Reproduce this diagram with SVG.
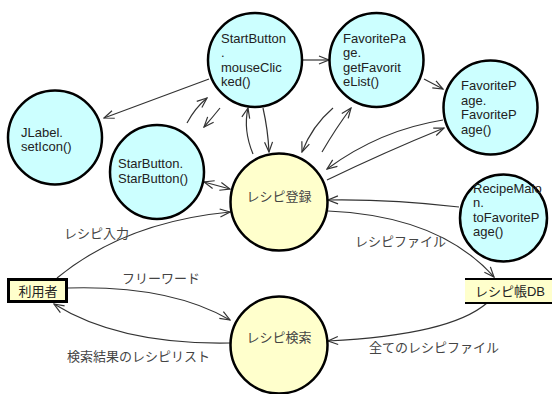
<svg xmlns="http://www.w3.org/2000/svg" width="552" height="394" viewBox="0 0 552 394">
<style>
.proc-c{fill:#ccffff;stroke:#000;stroke-width:2.5}
.proc-y{fill:#ffffcc;stroke:#000;stroke-width:2.5}
.t{font-family:"Liberation Sans","Noto Sans CJK JP",sans-serif;font-size:13px;fill:#222}
.lbl{font-family:"Liberation Sans","Noto Sans CJK JP",sans-serif;font-size:13px;fill:#444}
.c{fill:none;stroke:#333;stroke-width:1.2}
</style>
<defs>
<marker id="ah" viewBox="0 0 12 10" refX="11" refY="5" markerWidth="12" markerHeight="10" markerUnits="userSpaceOnUse" orient="auto-start-reverse">
<path d="M1,1 L11,5 L1,9" fill="none" stroke="#333" stroke-width="1.2"/>
</marker>
</defs>
<rect width="552" height="394" fill="#fff"/>
<g id="connectors">
<path class="c" d="M209,79 L104,118" marker-end="url(#ah)"/>
<path class="c" d="M187,123 Q195,108 207,98" marker-end="url(#ah)"/>
<path class="c" d="M220,108 Q212,118 204,127" marker-end="url(#ah)"/>
<path class="c" d="M253,154 Q243,130 248,108" marker-end="url(#ah)"/>
<path class="c" d="M263,108 Q268,130 269,152" marker-end="url(#ah)"/>
<path class="c" d="M303,60 L329,60" marker-end="url(#ah)"/>
<path class="c" d="M424,79 L443,89" marker-end="url(#ah)"/>
<path class="c" d="M333,108 Q312,126 302,152" marker-end="url(#ah)"/>
<path class="c" d="M322,152 Q336,128 351,108" marker-end="url(#ah)"/>
<path class="c" d="M443,120 Q380,130 327,169" marker-end="url(#ah)"/>
<path class="c" d="M327,180 Q385,152 444,128" marker-end="url(#ah)"/>
<path class="c" d="M459,207 Q390,199 328,200" marker-end="url(#ah)"/>
<path class="c" d="M204,182 L230,189" marker-start="url(#ah)" marker-end="url(#ah)"/>
<path class="c" d="M57,278 Q125,222 230,212" marker-end="url(#ah)"/>
<path class="c" d="M68,288 Q170,285 230,320" marker-end="url(#ah)"/>
<path class="c" d="M230,343 Q120,345 54,304" marker-end="url(#ah)"/>
<path class="c" d="M328,211 Q440,216 494,277" marker-end="url(#ah)"/>
<path class="c" d="M487,303 Q450,335 328,341" marker-end="url(#ah)"/>
<text class="lbl" x="64" y="238">レシピ入力</text>
<text class="lbl" x="122" y="283">フリーワード</text>
<text class="lbl" x="67" y="361">検索結果のレシピリスト</text>
<text class="lbl" x="355" y="246">レシピファイル</text>
<text class="lbl" x="369" y="352">全てのレシピファイル</text>
</g>
<g id="startbutton">
<circle class="proc-c" cx="255" cy="60" r="47"/>
<text class="t" x="221" y="43">StartButton</text>
<text class="t" x="221" y="57">.</text>
<text class="t" x="221" y="72">mouseClic</text>
<text class="t" x="221" y="86">ked()</text>
</g>
<g id="getfavoritelist">
<circle class="proc-c" cx="376.5" cy="60" r="47"/>
<text class="t" x="343" y="43">FavoritePa</text>
<text class="t" x="343" y="57">ge.</text>
<text class="t" x="343" y="72">getFavorit</text>
<text class="t" x="343" y="86">eList()</text>
</g>
<g id="favoritepage">
<circle class="proc-c" cx="490.5" cy="107.5" r="47"/>
<text class="t" x="461" y="90">FavoriteP</text>
<text class="t" x="461" y="105">age.</text>
<text class="t" x="461" y="119">FavoriteP</text>
<text class="t" x="461" y="134">age()</text>
</g>
<g id="jlabel">
<circle class="proc-c" cx="55" cy="137.5" r="47"/>
<text class="t" x="21" y="137">JLabel.</text>
<text class="t" x="21" y="151">setIcon()</text>
</g>
<g id="starbutton">
<circle class="proc-c" cx="157" cy="172" r="47"/>
<text class="t" x="118" y="168">StarButton.</text>
<text class="t" x="118" y="183">StarButton()</text>
</g>
<g id="recipemaion">
<circle class="proc-c" cx="503.5" cy="218" r="43.5"/>
<text class="t" x="473" y="193">RecipeMaio</text>
<text class="t" x="473" y="207">n.</text>
<text class="t" x="473" y="222">toFavoriteP</text>
<text class="t" x="473" y="236">age()</text>
</g>
<g id="recipe-register">
<circle class="proc-y" cx="279" cy="202" r="48.5"/>
<text class="t" x="279" y="201" text-anchor="middle" style="fill:#444">レシピ登録</text>
</g>
<g id="recipe-search">
<circle class="proc-y" cx="279" cy="345" r="48.5"/>
<text class="t" x="279" y="342" text-anchor="middle" style="fill:#444">レシピ検索</text>
</g>
<g id="user">
<rect x="8.5" y="279.5" width="58" height="22" fill="#ffffcc" stroke="#000" stroke-width="3"/>
<text class="t" x="38" y="296" text-anchor="middle">利用者</text>
</g>
<g id="recipe-db">
<rect x="465" y="279" width="88" height="24" fill="#ffffcc"/>
<line x1="465" y1="279" x2="552" y2="279" stroke="#000" stroke-width="2"/>
<line x1="465" y1="303" x2="552" y2="303" stroke="#000" stroke-width="2"/>
<text class="t" x="510" y="296" text-anchor="middle">レシピ帳DB</text>
</g>
</svg>
